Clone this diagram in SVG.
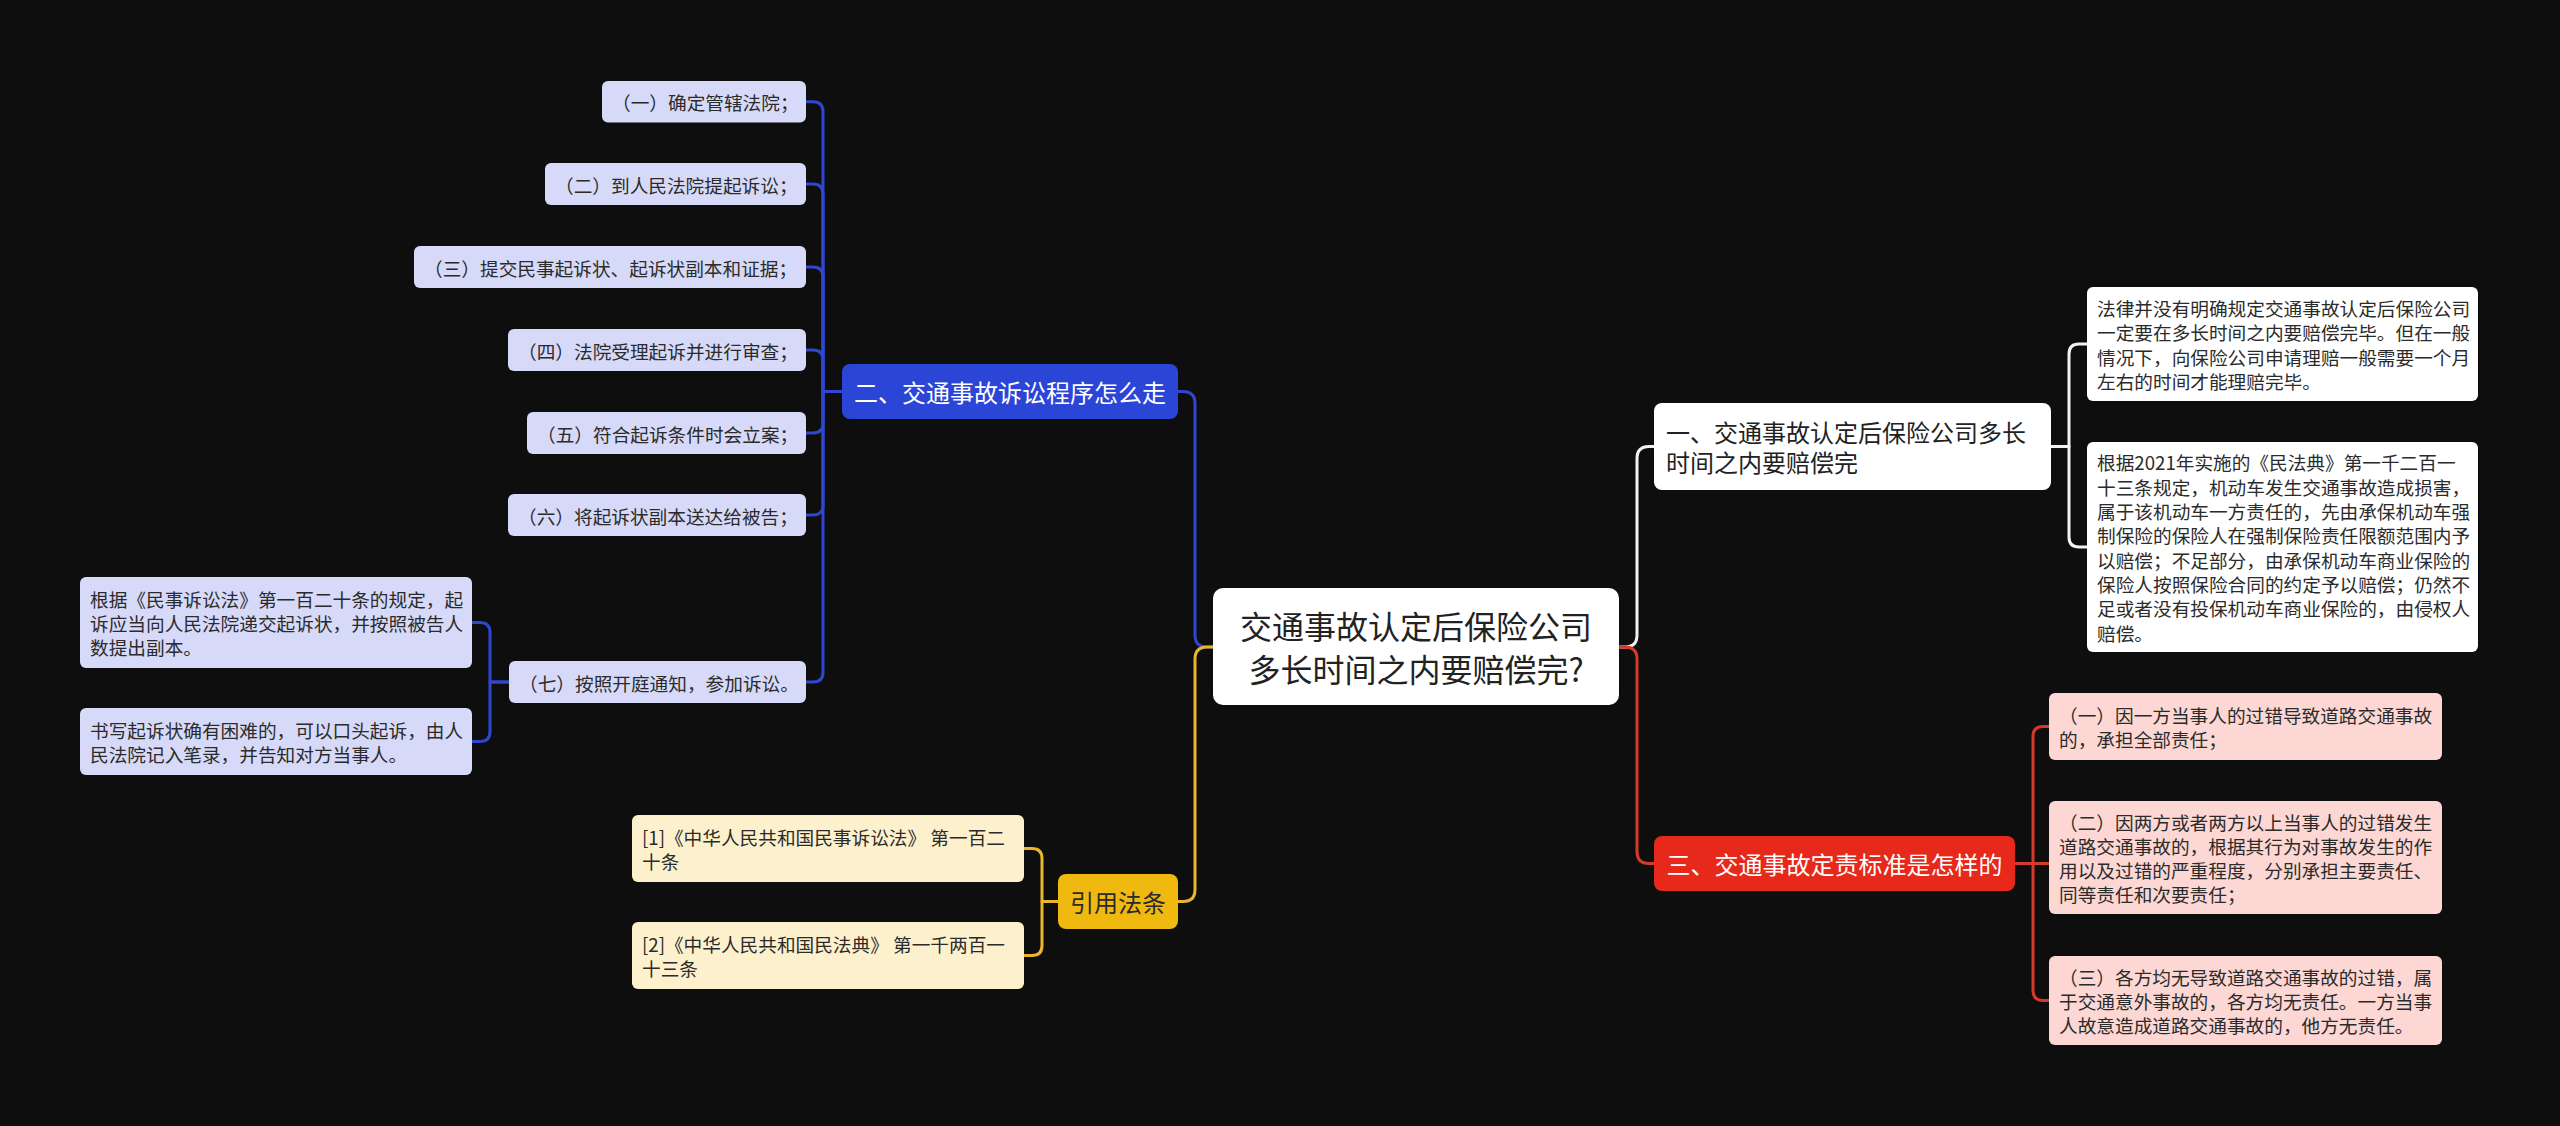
<svg xmlns="http://www.w3.org/2000/svg" width="2560" height="1126" viewBox="0 0 2560 1126">
<style>
text{font-family:"Noto Sans CJK SC","Noto Sans",sans-serif;dominant-baseline:central}
.conn{fill:none;stroke-width:3;stroke-linecap:round;stroke-linejoin:round}
.cb{stroke:#2f47cf}.cy{stroke:#e9b52b}.cw{stroke:#f2f2f2}.cr{stroke:#d63a2a}
.leaf{font-size:18.67px;fill:#2b2b2b}
.br{font-size:24px;text-anchor:middle}
.lb{fill:#d6daf8}.ly{fill:#fdf1cd}.lr{fill:#fcd7d3}.lw{fill:#ffffff}
</style>
<rect x="0" y="0" width="2560" height="1126" fill="#0e0e0e"/>
<g id="connectors">
<path class="conn cb" d="M1213,647 H1207 Q1195,647 1195,635 V403.5 Q1195,391.5 1183,391.5 H1178"/>
<path class="conn cb" d="M842,391.5 H823 V111.75 Q823,101.75 813,101.75 H806"/>
<path class="conn cb" d="M842,391.5 H823 V194 Q823,184 813,184 H806"/>
<path class="conn cb" d="M842,391.5 H823 V277 Q823,267 813,267 H806"/>
<path class="conn cb" d="M842,391.5 H823 V360 Q823,350 813,350 H806"/>
<path class="conn cb" d="M842,391.5 H823 V423 Q823,433 813,433 H806"/>
<path class="conn cb" d="M842,391.5 H823 V505 Q823,515 813,515 H806"/>
<path class="conn cb" d="M842,391.5 H823 V672 Q823,682 813,682 H806"/>
<path class="conn cb" d="M509,682 H490 V632.5 Q490,622.5 480,622.5 H472"/>
<path class="conn cb" d="M509,682 H490 V731.5 Q490,741.5 480,741.5 H472"/>
<path class="conn cy" d="M1213,647 H1207 Q1195,647 1195,659 V889.5 Q1195,901.5 1183,901.5 H1178"/>
<path class="conn cy" d="M1058,901.5 H1042 V858.5 Q1042,848.5 1032,848.5 H1024"/>
<path class="conn cy" d="M1058,901.5 H1042 V945.5 Q1042,955.5 1032,955.5 H1024"/>
<path class="conn cw" d="M1620,647 H1625 Q1637,647 1637,635 V458.5 Q1637,446.5 1649,446.5 H1654"/>
<path class="conn cw" d="M2051,446.5 H2069 V354 Q2069,344 2079,344 H2087"/>
<path class="conn cw" d="M2051,446.5 H2069 V537 Q2069,547 2079,547 H2087"/>
<path class="conn cr" d="M1620,647 H1625 Q1637,647 1637,659 V851.5 Q1637,863.5 1649,863.5 H1654"/>
<path class="conn cr" d="M2015,863.5 H2033 V736.5 Q2033,726.5 2043,726.5 H2049"/>
<path class="conn cr" d="M2015,863.5 H2049"/>
<path class="conn cr" d="M2015,863.5 H2033 V990.5 Q2033,1000.5 2043,1000.5 H2049"/>
</g>
<g id="center">
<rect x="1213" y="588" width="406" height="117" rx="10" fill="#ffffff"/>
<text x="1416" y="625" font-size="32" text-anchor="middle" fill="#222">交通事故认定后保险公司</text>
<text x="1416" y="668" font-size="32" text-anchor="middle" fill="#222">多长时间之内要赔偿完?</text>
</g>
<g id="branch-blue">
<rect x="842" y="364" width="336" height="55" rx="8" fill="#2b45d6"/>
<text class="br" x="1010" y="391.5" fill="#ffffff">二、交通事故诉讼程序怎么走</text>
</g>
<g id="b1"><rect class="lb" x="602" y="81" width="204" height="41.5" rx="6"/><text class="leaf" x="612" y="101.75">（一）确定管辖法院；</text></g>
<g id="b2"><rect class="lb" x="545" y="163" width="261" height="42" rx="6"/><text class="leaf" x="555" y="184">（二）到人民法院提起诉讼；</text></g>
<g id="b3"><rect class="lb" x="414" y="246" width="392" height="42" rx="6"/><text class="leaf" x="424" y="267">（三）提交民事起诉状、起诉状副本和证据；</text></g>
<g id="b4"><rect class="lb" x="508" y="329" width="298" height="42" rx="6"/><text class="leaf" x="518" y="350">（四）法院受理起诉并进行审查；</text></g>
<g id="b5"><rect class="lb" x="527" y="412" width="279" height="42" rx="6"/><text class="leaf" x="537" y="433">（五）符合起诉条件时会立案；</text></g>
<g id="b6"><rect class="lb" x="508" y="494" width="298" height="42" rx="6"/><text class="leaf" x="518" y="515">（六）将起诉状副本送达给被告；</text></g>
<g id="b7"><rect class="lb" x="509" y="661" width="297" height="42" rx="6"/><text class="leaf" x="519" y="682">（七）按照开庭通知，参加诉讼。</text></g>
<g id="b7a"><rect class="lb" x="80" y="577" width="392" height="91" rx="6"/>
<text class="leaf" x="90" y="598.2">根据《民事诉讼法》第一百二十条的规定，起</text>
<text class="leaf" x="90" y="622.5">诉应当向人民法院递交起诉状，并按照被告人</text>
<text class="leaf" x="90" y="646.8">数提出副本。</text></g>
<g id="b7b"><rect class="lb" x="80" y="708" width="392" height="67" rx="6"/>
<text class="leaf" x="90" y="729.35">书写起诉状确有困难的，可以口头起诉，由人</text>
<text class="leaf" x="90" y="753.65">民法院记入笔录，并告知对方当事人。</text></g>
<g id="branch-yellow">
<rect x="1058" y="874" width="120" height="55" rx="8" fill="#f0b90f"/>
<text class="br" x="1118" y="901.5" fill="#2a2a2a">引用法条</text>
</g>
<g id="y1"><rect class="ly" x="632" y="815" width="392" height="67" rx="6"/>
<text class="leaf" x="642" y="836.35">[1]《中华人民共和国民事诉讼法》 第一百二</text>
<text class="leaf" x="642" y="860.65">十条</text></g>
<g id="y2"><rect class="ly" x="632" y="922" width="392" height="67" rx="6"/>
<text class="leaf" x="642" y="943.35">[2]《中华人民共和国民法典》 第一千两百一</text>
<text class="leaf" x="642" y="967.65">十三条</text></g>
<g id="branch-white">
<rect x="1654" y="403" width="397" height="87" rx="8" fill="#ffffff"/>
<text x="1666" y="431.5" font-size="24" fill="#222">一、交通事故认定后保险公司多长</text>
<text x="1666" y="461.5" font-size="24" fill="#222">时间之内要赔偿完</text>
</g>
<g id="w1"><rect class="lw" x="2087" y="287" width="391" height="114" rx="6"/>
<text class="leaf" x="2097" y="307.5">法律并没有明确规定交通事故认定后保险公司</text>
<text class="leaf" x="2097" y="331.8">一定要在多长时间之内要赔偿完毕。但在一般</text>
<text class="leaf" x="2097" y="356.1">情况下，向保险公司申请理赔一般需要一个月</text>
<text class="leaf" x="2097" y="380.4">左右的时间才能理赔完毕。</text></g>
<g id="w2"><rect class="lw" x="2087" y="442" width="391" height="210" rx="6"/>
<text class="leaf" x="2097" y="461.9">根据2021年实施的《民法典》第一千二百一</text>
<text class="leaf" x="2097" y="486.2">十三条规定，机动车发生交通事故造成损害，</text>
<text class="leaf" x="2097" y="510.5">属于该机动车一方责任的，先由承保机动车强</text>
<text class="leaf" x="2097" y="534.8">制保险的保险人在强制保险责任限额范围内予</text>
<text class="leaf" x="2097" y="559.1">以赔偿；不足部分，由承保机动车商业保险的</text>
<text class="leaf" x="2097" y="583.4">保险人按照保险合同的约定予以赔偿；仍然不</text>
<text class="leaf" x="2097" y="607.7">足或者没有投保机动车商业保险的，由侵权人</text>
<text class="leaf" x="2097" y="632">赔偿。</text></g>
<g id="branch-red">
<rect x="1654" y="836" width="361" height="55" rx="8" fill="#e6291b"/>
<text class="br" x="1834.5" y="863.5" fill="#ffffff">三、交通事故定责标准是怎样的</text>
</g>
<g id="r1"><rect class="lr" x="2049" y="693" width="393" height="67" rx="6"/>
<text class="leaf" x="2059" y="714.35">（一）因一方当事人的过错导致道路交通事故</text>
<text class="leaf" x="2059" y="738.65">的，承担全部责任；</text></g>
<g id="r2"><rect class="lr" x="2049" y="801" width="393" height="113" rx="6"/>
<text class="leaf" x="2059" y="821.05">（二）因两方或者两方以上当事人的过错发生</text>
<text class="leaf" x="2059" y="845.35">道路交通事故的，根据其行为对事故发生的作</text>
<text class="leaf" x="2059" y="869.65">用以及过错的严重程度，分别承担主要责任、</text>
<text class="leaf" x="2059" y="893.95">同等责任和次要责任；</text></g>
<g id="r3"><rect class="lr" x="2049" y="956" width="393" height="89" rx="6"/>
<text class="leaf" x="2059" y="976.2">（三）各方均无导致道路交通事故的过错，属</text>
<text class="leaf" x="2059" y="1000.5">于交通意外事故的，各方均无责任。一方当事</text>
<text class="leaf" x="2059" y="1024.8">人故意造成道路交通事故的，他方无责任。</text></g>
</svg>
